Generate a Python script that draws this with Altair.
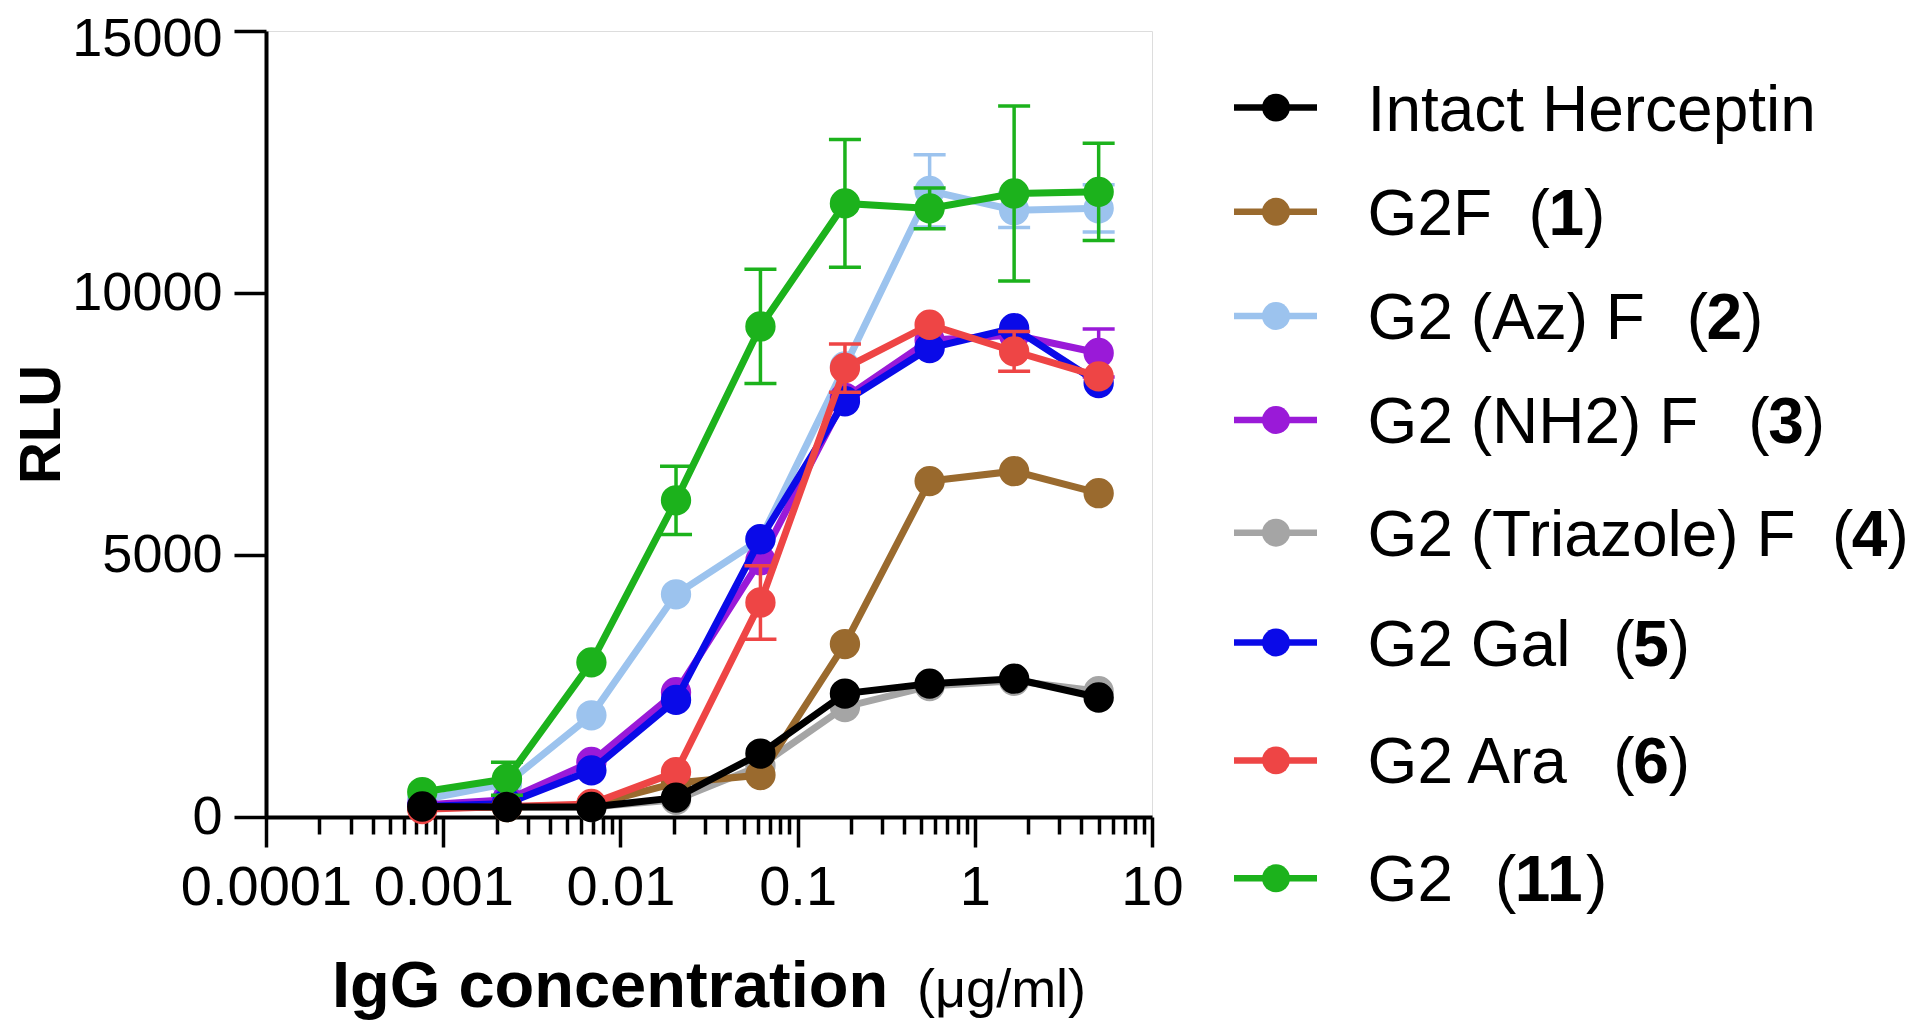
import json
import altair as alt
import pandas as pd

# ---------------- data ----------------
conc = [0.000762, 0.00229, 0.00686, 0.0206, 0.0617, 0.185, 0.556, 1.667, 5.0]

series_names = ["Intact Herceptin", "G2F", "G2 (Az) F", "G2 (NH2) F",
                "G2 (Triazole) F", "G2 Gal", "G2 Ara", "G2"]
series_numbers = ["", "1", "2", "3", "4", "5", "6", "11"]
series_colors = ["#000000", "#9A6A2E", "#9CC3EE", "#9A1AD8",
                 "#A5A5A5", "#0A0AE8", "#EE4545", "#1CB21C"]

rlu_intact = [200, 190, 190, 370, 1210, 2355, 2545, 2640, 2280]
rlu_g2f = [170, 190, 230, 650, 800, 3300, 6410, 6600, 6180]
rlu_az = [330, 640, 1940, 4250, 5300, 8600, 11950, 11580, 11615]
rlu_nh2 = [230, 330, 1050, 2380, 4900, 8000, 9100, 9200, 8855]
rlu_triazole = [190, 190, 190, 330, 980, 2100, 2500, 2600, 2400]
rlu_gal = [200, 260, 890, 2235, 5300, 7934, 8950, 9330, 8282]
rlu_ara = [150, 200, 250, 857, 4093, 8568, 9394, 8886, 8410]
rlu_g2 = [476, 731, 2951, 6043, 9362, 11710, 11615, 11900, 11930]

sd_intact = [0, 0, 0, 0, 0, 0, 0, 0, 0]
sd_g2f = [0, 0, 0, 0, 0, 0, 0, 0, 0]
sd_az = [0, 0, 0, 0, 0, 0, 690, 330, 450]
sd_nh2 = [0, 0, 0, 0, 0, 0, 0, 0, 460]
sd_triazole = [0, 0, 0, 0, 0, 0, 0, 0, 0]
sd_gal = [0, 0, 0, 0, 0, 0, 0, 0, 0]
sd_ara = [0, 0, 0, 0, 700, 460, 0, 380, 0]
sd_g2 = [0, 316, 0, 650, 1090, 1220, 390, 1670, 930]

series_rlu = [rlu_intact, rlu_g2f, rlu_az, rlu_nh2, rlu_triazole, rlu_gal, rlu_ara, rlu_g2]
series_sd = [sd_intact, sd_g2f, sd_az, sd_nh2, sd_triazole, sd_gal, sd_ara, sd_g2]

draw_order = ["G2 (Triazole) F", "G2F", "G2 (Az) F", "G2 (NH2) F",
              "G2 Gal", "G2 Ara", "G2", "Intact Herceptin"]

major_ticks = [0.0001, 0.001, 0.01, 0.1, 1, 10]
major_labels = ["0.0001", "0.001", "0.01", "0.1", "1", "10"]
y_ticks = [0, 5000, 10000, 15000]

x_title_bold = "IgG concentration"
x_title_unit = "(μg/ml)"
y_title = "RLU"

# ---------------- layout (pixels, relative to plot area) ----------------
W, H = 886, 786
PAD_L, PAD_T = 258, 23
FONT = "Liberation Sans"
LEG_FS = 64
legend_row_y = [76.6, 180.8, 285, 389, 501.7, 611.5, 729.4, 847.3]
legend_num_x = [0, 1262.6, 1420.7, 1482.3, 1566, 1347.3, 1347.3, 1229]
legend_name_x = 1101.6
paren_w = 0.31 * LEG_FS
digit_w = 0.556 * LEG_FS

rows = []
for name, rl, sd in zip(series_names, series_rlu, series_sd):
    for c, v, s in zip(conc, rl, sd):
        rows.append({"series": name, "conc": c, "rlu": v, "sd": s,
                     "low": v - s, "high": v + s})
df = pd.DataFrame(rows)

minor_ticks = []
for d in major_ticks[:-1]:
    for m in range(2, 10):
        minor_ticks.append(m * d)

maj_str = json.dumps(major_ticks)
lab_str = json.dumps(major_labels)
is_major = f"indexof({maj_str}, datum.value) >= 0"

xaxis = alt.Axis(
    values=major_ticks + minor_ticks,
    labelExpr=f"{is_major} ? {lab_str}[indexof({maj_str}, datum.value)] : ''",
    tickSize={"condition": {"test": is_major, "value": 30}, "value": 17},
    labelFont=FONT, labelFontSize=56, labelColor="black", labelPadding=13,
    labelOverlap=False, labelFlush=False,
    domainColor="black", domainWidth=4, tickColor="black", tickWidth=3.5,
    grid=False, title=None,
)
yaxis = alt.Axis(
    values=y_ticks, format="d",
    labelFont=FONT, labelFontSize=54, labelColor="black", labelPadding=12,
    labelOffset={"condition": {"test": f"datum.value == {y_ticks[-1]}", "value": 8}, "value": 0},
    tickSize=32, tickColor="black", tickWidth=3.5,
    domainColor="black", domainWidth=4, grid=False,
    title=y_title, titleFont=FONT, titleFontSize=58, titleFontWeight="bold",
    titleColor="black", titleAngle=-90, titleX=-224, titleY=H / 2,
    titleBaseline="middle", titleAlign="center",
)

xsc = alt.Scale(type="log", domain=[0.0001, 10])
ysc = alt.Scale(domain=[0, 15000])
csc = alt.Scale(domain=series_names, range=series_colors)

X = alt.X("conc:Q", scale=xsc, axis=xaxis, title=None)
COLOR = alt.Color("series:N", scale=csc, legend=None)

base = alt.Chart(df)
layers = []
for s in draw_order:
    sub = base.transform_filter(alt.datum.series == s)
    err = sub.transform_filter(alt.datum.sd > 0)
    layers.append(err.mark_rule(strokeWidth=3.5).encode(
        x=X, y=alt.Y("low:Q", scale=ysc, axis=yaxis, title=y_title),
        y2="high:Q", color=COLOR))
    layers.append(err.mark_tick(orient="horizontal", size=32, thickness=3.5, opacity=1).encode(
        x=X, y=alt.Y("low:Q", scale=ysc, axis=yaxis, title=y_title), color=COLOR))
    layers.append(err.mark_tick(orient="horizontal", size=32, thickness=3.5, opacity=1).encode(
        x=X, y=alt.Y("high:Q", scale=ysc, axis=yaxis, title=y_title), color=COLOR))
    layers.append(sub.mark_line(strokeWidth=7).encode(
        x=X, y=alt.Y("rlu:Q", scale=ysc, axis=yaxis, title=y_title), color=COLOR))
    layers.append(sub.mark_circle(size=920, opacity=1).encode(
        x=X, y=alt.Y("rlu:Q", scale=ysc, axis=yaxis, title=y_title), color=COLOR))

# ---------------- custom legend ----------------
leg_rows = []
for name, num, ry, nx in zip(series_names, series_numbers, legend_row_y, legend_num_x):
    leg_rows.append({
        "series": name, "num": num, "py": ry, "pyt": ry + 23,
        "px_name": legend_name_x,
        "px_open": nx, "px_num": nx + paren_w,
        "px_close": nx + paren_w + digit_w * len(num),
    })
leg = pd.DataFrame(leg_rows)
legb = alt.Chart(leg)
PY = alt.Y("py:Q", scale=None, axis=None)
PYT = alt.Y("pyt:Q", scale=None, axis=None)

layers.append(legb.mark_rule(strokeWidth=6.5).encode(
    x=alt.value(968), x2=alt.value(1051), y=PY, color=COLOR))
layers.append(legb.mark_circle(size=780, opacity=1).encode(
    x=alt.value(1010), y=PY, color=COLOR))
layers.append(legb.mark_text(align="left", baseline="alphabetic", font=FONT,
                             fontSize=LEG_FS, color="black").encode(
    x=alt.X("px_name:Q", scale=None, axis=None), y=PYT, text="series:N"))
legn = legb.transform_filter(alt.datum.num != "")
layers.append(legn.mark_text(align="left", baseline="alphabetic", font=FONT,
                             fontSize=LEG_FS, color="black", text="(").encode(
    x=alt.X("px_open:Q", scale=None, axis=None), y=PYT))
layers.append(legn.mark_text(align="left", baseline="alphabetic", font=FONT,
                             fontSize=LEG_FS, fontWeight="bold", color="black").encode(
    x=alt.X("px_num:Q", scale=None, axis=None), y=PYT, text="num:N"))
layers.append(legn.mark_text(align="left", baseline="alphabetic", font=FONT,
                             fontSize=LEG_FS, color="black", text=")").encode(
    x=alt.X("px_close:Q", scale=None, axis=None), y=PYT))

# ---------------- x-axis title (mixed weight) ----------------
xt = pd.DataFrame({"t": [x_title_bold]})
xu = pd.DataFrame({"t": [x_title_unit]})
layers.append(alt.Chart(xt).mark_text(align="left", baseline="alphabetic", font=FONT,
                                      fontSize=65, fontWeight="bold", color="black").encode(
    x=alt.value(66), y=alt.value(976), text="t:N"))
layers.append(alt.Chart(xu).mark_text(align="left", baseline="alphabetic", font=FONT,
                                      fontSize=54, color="black").encode(
    x=alt.value(651), y=alt.value(976), text="t:N"))

chart = alt.layer(*layers).properties(
    width=W, height=H,
    autosize=alt.AutoSizeParams(type="none"),
    padding={"left": PAD_L, "top": PAD_T, "right": 1904 - PAD_L - W, "bottom": 1014 - PAD_T - H},
).configure_view(stroke=None).configure(background="white")

chart.save("out.html", embed_options={"renderer": "svg", "actions": False})
